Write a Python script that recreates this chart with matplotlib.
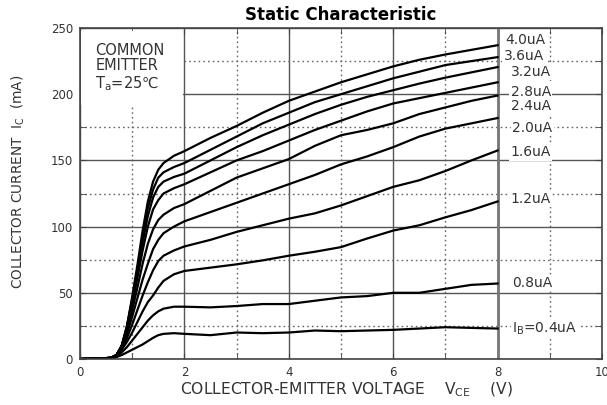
import matplotlib
matplotlib.use("Agg")
import matplotlib.pyplot as plt
from matplotlib.patches import Rectangle

plt.rcParams['font.family'] = ['DejaVu Sans']
plt.rcParams['mathtext.fontset'] = 'dejavusans'

# ---- data ----
vce = [0, 0.4, 0.6, 0.7, 0.8, 0.9, 1.0, 1.1, 1.2, 1.3, 1.4, 1.5, 1.6, 1.8, 2.0,
       2.5, 3.0, 3.5, 4.0, 4.5, 5.0, 5.5, 6.0, 6.5, 7.0, 7.5, 8.0]

ic_40 = [0, 0.3, 1, 3, 10, 25, 47, 71, 97, 119, 134, 143, 148, 153.5, 157,
         167, 176, 186, 195, 202, 209, 215, 221, 226, 230, 233.5, 237]
ic_36 = [0, 0.3, 1, 3, 10, 25, 45, 68, 93, 114, 128, 137, 141, 145, 148,
         158, 168, 178, 186, 194, 200, 206, 212, 217, 222, 225, 228]
ic_32 = [0, 0.3, 1, 3, 10, 24, 43, 65, 88, 108, 122, 130, 134, 137.5, 140,
         150, 160, 169, 177, 185, 192, 198, 203, 208, 212.5, 216.5, 220.5]
ic_28 = [0, 0.3, 1, 3, 10, 23, 41, 61, 82, 100, 113, 120, 125, 129, 132,
         141, 150, 157, 165, 173, 180, 187, 193, 197, 201, 205, 209]
ic_24 = [0, 0.3, 1, 3, 10, 21, 37, 54, 72, 87, 98, 105, 109, 114, 117,
         127, 137, 144, 151, 161, 169, 173, 178, 185, 190, 195, 199]
ic_20 = [0, 0.3, 1, 3, 9, 19, 32, 46, 60, 72, 83, 90, 95, 100, 104,
         111, 118, 125, 132, 139, 147, 153, 160, 168, 174, 178, 182]
ic_16 = [0, 0.3, 0.8, 3, 8, 16, 26, 37, 48, 58, 67, 74, 78, 82, 85,
         90, 96, 101, 106, 110, 116, 123, 130, 135, 142, 150, 157.5]
ic_12 = [0, 0.3, 0.7, 2.5, 7, 13, 20, 28, 36, 43, 48, 54, 59, 64, 66.5,
         69, 71.5, 74.5, 78, 81, 84.5, 91, 97, 101, 107, 112.5, 119]
ic_08 = [0, 0.2, 0.5, 2, 5, 9, 14, 19, 24, 29, 33, 36, 38, 39.5, 39.5,
         39, 40, 41.5, 41.5, 44, 46.5, 47.5, 50, 50, 53, 56, 57]
ic_04 = [0, 0.2, 0.5, 1.5, 3, 5, 7, 9, 11, 13.5, 16, 18, 19, 19.5, 19,
         18, 20, 19.5, 20, 21.5, 21, 21.5, 22, 23, 24, 23.5, 23]

ib_labels = ['4.0uA', '3.6uA', '3.2uA', '2.8uA', '2.4uA', '2.0uA', '1.6uA',
             '1.2uA', '0.8uA', 'I$_\\mathregular{B}$=0.4uA']

x_ticks = [0, 2, 4, 6, 8, 10]
y_ticks = [0, 50, 100, 150, 200, 250]

# ---- layout (label anchor positions) ----
label_pos = [(8.15, 241), (8.12, 229), (8.25, 217), (8.25, 202), (8.25, 191),
             (8.28, 174.5), (8.25, 156), (8.25, 121), (8.28, 57.4), (8.28, 23)]

curves = [ic_40, ic_36, ic_32, ic_28, ic_24, ic_20, ic_16, ic_12, ic_08, ic_04]

fig = plt.figure(figsize=(6.07, 4.05), dpi=100)
ax = fig.add_axes([80/607, 46/405, 522/607, 331/405])

ax.set_xlim(0, 10)
ax.set_ylim(0, 250)
ax.set_xticks(x_ticks)
ax.set_yticks(y_ticks)
ax.set_xticks([1, 3, 5, 7, 9], minor=True)
ax.set_yticks([25, 75, 125, 175, 225], minor=True)
ax.set_axisbelow(True)
ax.grid(True, which='major', color='#555555', linewidth=1.0, linestyle='-')
ax.grid(True, which='minor', color='#666666', linewidth=1.0, linestyle=(0, (1.2, 2.2)))
ax.tick_params(which='both', direction='in', length=4, color='#444444',
               top=True, right=True, labelsize=8.5, labelcolor='#333333', pad=5)
for s in ax.spines.values():
    s.set_color('#444444')
    s.set_linewidth(1.2)

ax.axvline(8, color='#777777', linewidth=2.0, zorder=0.8)

# white box behind the condition text
ax.add_patch(Rectangle((0.02, 192), 1.95, 56, facecolor='white', edgecolor='none', zorder=1))
ax.text(0.29, 239, 'COMMON\nEMITTER\nT$_\\mathregular{a}$=25\u2103', fontsize=10.5,
        color='#333333', va='top', ha='left', linespacing=1.05, zorder=3)

for ic in curves:
    ax.plot(vce, ic, color='black', linewidth=1.6, solid_joinstyle='round', zorder=2)

for lab, (lx, ly) in zip(ib_labels, label_pos):
    ax.text(lx, ly, lab, fontsize=10, color='#333333', va='center', ha='left',
            zorder=3, bbox=dict(facecolor='white', edgecolor='none', pad=1.0))

ax.set_title('Static Characteristic', fontsize=12, fontweight='bold', pad=6)

fig.text(18/607, 1 - 182/405, 'COLLECTOR CURRENT  I$_\\mathregular{C}$  (mA)',
         rotation=90, fontsize=9.8, color='#333333', ha='center', va='center')
fig.text(346/607, 1 - 390/405, 'COLLECTOR-EMITTER VOLTAGE    V$_\\mathregular{CE}$    (V)',
         fontsize=11.2, color='#333333', ha='center', va='center')

fig.savefig('out.png', dpi=100)
